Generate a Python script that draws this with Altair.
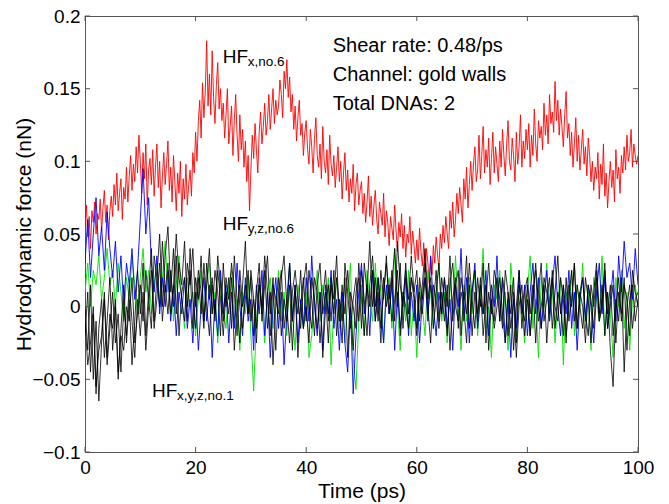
import altair as alt
import pandas as pd

# HF_x of DNA no.6, in pN (1e-3 nN), sampled every 0.25 ps from 0 to 100 ps
red_pN = [
    55, 70, 48, 62, 40, 66, 58, 72, 50, 64,
    60, 74, 52, 68, 80, 58, 70, 46, 66, 76,
    62, 84, 70, 92, 66, 78, 88, 60, 82, 74,
    96, 72, 90, 104, 80, 98, 86, 110, 92, 118,
    100, 78, 106, 88, 112, 70, 94, 102, 84, 108,
    76, 96, 112, 82, 100, 68, 90, 106, 84, 98,
    114, 80, 96, 72, 104, 86, 66, 92, 78, 100,
    62, 88, 74, 98, 70, 84, 94, 76, 106, 92,
    120, 100, 128, 142, 116, 154, 130, 148, 183, 138,
    160, 132, 176, 144, 126, 152, 168, 136, 150, 128,
    140, 116, 132, 150, 112, 124, 138, 104, 128, 146,
    118, 100, 132, 108, 122, 96, 114, 86, 104, 66,
    94, 118, 102, 126, 108, 92, 120, 134, 112, 124,
    140, 118, 128, 146, 122, 136, 150, 126, 142, 132,
    138, 156, 146, 130, 162, 150, 170, 144, 158, 134,
    146, 122, 138, 114, 130, 142, 118, 126, 104, 120,
    128, 108, 98, 122, 110, 92, 116, 130, 104, 96,
    112, 88, 124, 100, 92, 108, 84, 118, 98, 90,
    104, 82, 96, 110, 86, 100, 74, 92, 106, 80,
    94, 72, 88, 78, 98, 66, 84, 92, 70, 80,
    86, 64, 78, 58, 72, 90, 62, 76, 56, 70,
    80, 60, 50, 72, 64, 56, 78, 48, 66, 58,
    42, 62, 54, 46, 70, 52, 38, 58, 48, 64,
    40, 56, 34, 50, 44, 62, 36, 52, 42, 30,
    46, 32, 54, 38, 28, 44, 24, 40, 30, 16,
    34, 22, 42, 30, 48, 36, 26, 50, 40, 56,
    44, 62, 50, 40, 66, 54, 72, 48, 60, 78,
    64, 82, 70, 58, 88, 74, 96, 68, 84, 100,
    80, 98, 110, 86, 94, 118, 88, 104, 124, 92,
    108, 96, 116, 84, 102, 120, 92, 110, 98, 86,
    114, 96, 122, 104, 90, 112, 128, 100, 94, 116,
    104, 86, 120, 98, 110, 132, 96, 114, 102, 122,
    108, 126, 96, 118, 104, 136, 112, 100, 128, 116,
    124, 108, 140, 118, 132, 112, 146, 126, 134, 120,
    155, 128, 142, 118, 136, 124, 110, 132, 148, 116,
    126, 104, 120, 96, 112, 130, 100, 118, 94, 108,
    122, 98, 110, 90, 116, 104, 86, 100, 80, 96,
    88, 106, 74, 98, 84, 112, 76, 92, 68, 86,
    100, 82, 94, 72, 108, 88, 96, 78, 104, 92,
    110, 94, 118, 100, 106, 122, 96, 112, 104, 98,
    104,
]
# HF_y and HF_z of DNA no.6 and HF_x,y,z of DNA no.1, in pN, every 0.5 ps
blue_pN = [
    30, 60, 20, 50, 75, 35, 55, 25, 65, 40,
    20, 45, 10, 35, 0, 30, 15, 40, 5, 25,
    60, 95, 50, 75, 30, 10, 35, -5, 20, 0,
    25, -10, 15, -20, 10, -5, 20, -15, 5, -25,
    10, -30, 0, 20, -10, 15, -35, 5, -20, 25,
    -5, 15, -25, 10, -15, 30, 0, -20, 20, -10,
    5, -30, 15, -5, 25, -20, 10, -35, 0, 20,
    -15, 10, -40, -5, 30, -10, 15, -25, 5, -15,
    20, -10, 35, 0, -20, 10, -30, 15, -5, 25,
    -15, 5, -30, 10, -25, -45, 0, -60, -20, 10,
    30, -5, 15, -20, 25, -10, 20, 0, -25, 15,
    -5, 20, -30, 10, -15, 5, 25, -20, 10, -10,
    15, -25, 5, 20, -10, 35, 0, -20, 10, -5,
    20, -15, 5, -30, 15, 0, 40, -10, 20, -25,
    10, 30, -15, 5, -5, 25, -20, 15, 0, 35,
    -10, 20, -25, 5, -35, 10, -15, 25, -5, 15,
    -20, 10, 30, -5, 20, -15, 5, 25, -10, 15,
    35, 0, -20, 15, -5, 25, -15, 10, -30, 5,
    20, -10, 15, 0, -25, 10, 30, -5, 20, -15,
    5, 25, -10, 35, 10, 45, 20, 30, 5, 40,
    15,
]
green_pN = [
    10, 30, 0, 25, 15, 35, 5, 20, 40, 15,
    25, 0, 30, 10, -10, 20, 5, 35, 15, -5,
    20, 40, 10, 25, -5, 15, 30, 0, 20, 45,
    10, 25, -10, 15, 35, 5, -15, 20, 0, 10,
    -20, 5, 25, -10, 15, 30, -5, 10, -25, 20,
    0, -15, 15, 25, -10, 5, -30, 10, -5, 20,
    -20, -58, -10, 15, 0, -25, 10, 20, -15, 5,
    25, -10, 10, -20, 30, -5, -30, 15, 0, -15,
    10, -35, -20, 5, 25, -10, 15, -5, 20, -40,
    0, 20, -15, 10, -25, 5, 30, -35, -57, -10,
    15, -20, 25, 5, -10, 30, -5, 15, -25, 10,
    20, -15, 40, 0, -30, 10, -10, 25, -20, 5,
    -35, 15, 0, -20, 25, 10, -15, 5, 30, -10,
    10, -25, 20, -5, 35, 0, -30, 15, -10, 20,
    -5, 25, -20, 10, 40, -15, 0, -35, 15, 5,
    25, -10, 10, -30, 30, 5, -20, 15, 0, -25,
    10, 35, -15, 5, -35, 20, 0, 30, -10, 15,
    -25, 5, 20, -40, 10, -5, 25, -20, 15, 0,
    30, -15, 10, -30, 20, 5, -10, 35, -20, 10,
    -5, -35, 20, 0, 25, -15, 10, -30, 5, 15,
    0,
]
black1_pN = [
    -20, 10, -45, -5, -60, -15, 5, -35, -10, 20,
    -30, 0, -50, -15, 15, -25, 5, -40, -10, 25,
    -5, 30, -20, 10, 40, -10, 20, 50, 0, 35,
    55, 10, 40, -5, 30, 15, 45, 0, 25, -15,
    20, 5, 35, -10, 15, 40, -5, 25, 10, -20,
    30, 0, 20, -15, 35, 5, -25, 15, 45, -5,
    20, -20, 10, 30, -10, 15, 35, -5, 20, -30,
    10, 25, -15, 5, 30, -10, 15, -35, 0, 20,
    -10, 25, 5, -20, 15, 30, -5, 10, -25, 20,
    5, 35, -10, 15, -5, 25, 0, -30, 10, 20,
    -15, 30, 10, 45, 0, 20, -10, 25, 5, 35,
    -5, 15, 40, 0, 30, -15, 20, 5, 35, 10,
    25, -10, 15, 40, 5, 20, -15, 10, 30, -5,
    20, 0, 35, -10, 15, 25, -20, 10, -5, 30,
    5, -15, 20, 0, 30, -25, 10, -5, 25, 15,
    -10, 20, 5, -20, 15, -30, 0, 25, -15, 10,
    20, -5, 15, -25, 10, 30, -10, 5, 20, -15,
    10, 35, -5, 15, -20, 5, 25, -10, 15, 0,
    -15, 20, 5, -25, 10, 30, -5, 15, -20, 10,
    -30, -55, 0, 20, -10, 15, 5, -20, 25, 10,
    0,
]
black2_pN = [
    0, -30, 15, -50, -10, -65, -25, 5, -40, -15,
    10, -25, -5, -45, 0, -20, 15, -10, -35, 5,
    -20, 10, -30, 0, 25, -15, 5, 30, -10, 15,
    -5, 25, 0, 35, -20, 10, 20, -10, 40, 5,
    -15, 20, -5, 30, 0, -20, 15, -10, 25, 5,
    -20, 10, -5, 20, -30, 0, 15, -15, 5, 25,
    -10, 5, -25, 15, -5, 25, -15, 10, -40, 0,
    20, -20, 5, -10, 15, -30, 10, -5, 25, -15,
    0, -25, 20, 5, -15, 10, -35, 0, 15, -10,
    25, -20, 5, -10, 20, -35, 10, 0, -15, 30,
    5, -20, 15, 0, 25, -10, 10, -25, 20, 0,
    15, -10, 5, 25, -20, 10, 0, -15, 20, 5,
    -20, 10, -5, 20, 0, -25, 15, 5, -15, 10,
    -10, 15, -30, 5, 20, -15, 10, 0, -25, 15,
    -20, 10, -10, 20, -5, 15, -30, 5, -15, 0,
    20, -5, -25, 10, -15, 5, -35, 0, 15, -20,
    5, -20, 10, 25, -10, 0, 15, -25, 5, 20,
    -15, 10, 0, -20, 20, -10, 5, 30, -15, 10,
    0, -25, 15, 5, -15, 20, -10, 0, 25, -5,
    15, -20, 5, -10, 20, -45, 0, 15, -15, 5,
    10,
]
black3_pN = [
    -10, -40, -25, 0, -55, -30, -20, 10, -35, -5,
    -15, 5, -45, -20, -30, 0, -10, 20, -25, -5,
    15, -10, 25, 5, -15, 35, 20, 0, 45, 10,
    30, -5, 15, 50, 20, 5, -10, 30, 15, 40,
    0, 25, 10, -15, 30, 5, 20, -5, 35, 15,
    -10, 20, 5, 30, 10, -20, 25, 0, 15, -5,
    25, 5, -15, 20, 0, 35, 10, -20, 15, 5,
    -5, 20, 35, 0, -25, 10, 25, 5, -15, 15,
    30, 0, -15, 20, 10, -25, 5, 25, -10, 15,
    -5, 20, 0, -25, 30, 10, -15, 5, 20, -10,
    25, 5, -20, 15, 35, 0, 20, -15, 10, 30,
    5, 25, -10, 45, 15, 0, 30, -5, 20, 10,
    -15, 20, 5, 30, -5, 15, 0, 25, -10, 20,
    5, -20, 15, 30, 0, -10, 20, 5, 35, -15,
    10, 25, -5, 15, -20, 5, 30, 0, -10, 20,
    5, -15, 25, 10, -5, 20, -25, 15, 0, -10,
    15, -20, 5, 30, 0, -15, 20, 10, -5, 25,
    0, -10, 20, 5, -25, 15, 0, 30, -15, 10,
    20, -5, -20, 15, 0, 25, -10, 5, 30, -15,
    0, 15, -25, 10, -5, 20, -30, 5, 15, -10,
    5,
]

x_ticks = [0, 20, 40, 60, 80, 100]
y_ticks = [-0.1, -0.05, 0, 0.05, 0.1, 0.15, 0.2]
info_lines = ["Shear rate: 0.48/ps", "Channel: gold walls", "Total DNAs: 2"]

W, H = 553, 436
FONT = "Liberation Sans"

def frame(vals, step):
    return pd.DataFrame({"t": [i * step for i in range(len(vals))],
                         "f": [v / 1000.0 for v in vals]})

xs = alt.Scale(domain=[0, 100], nice=False)
ys = alt.Scale(domain=[-0.1, 0.2], nice=False)

def line(vals, step, color, width=0.9, first=False):
    if first:
        xe = alt.X("t:Q", scale=xs, axis=alt.Axis(values=x_ticks, title="Time (ps)", ticks=False,
                                                  labelPadding=6, titlePadding=3, format="d",
                                                  labelFlush=False))
        ye = alt.Y("f:Q", scale=ys, axis=alt.Axis(values=y_ticks, title="Hydrodynamic force (nN)",
                                                  ticks=False, labelPadding=5, titlePadding=-3,
                                                  labelFlush=False,
                                                  labelExpr="datum.value == 0 ? '0' : format(datum.value, '')"))
    else:
        xe = alt.X("t:Q", scale=xs)
        ye = alt.Y("f:Q", scale=ys)
    return alt.Chart(frame(vals, step)).mark_line(color=color, strokeWidth=width, clip=True).encode(x=xe, y=ye)

layers = [
    line(red_pN, 0.25, "#ff0000", first=True),
    line(green_pN, 0.5, "#00e000"),
    line(blue_pN, 0.5, "#0000ff"),
    line(black1_pN, 0.5, "#000000", 0.8),
    line(black2_pN, 0.5, "#000000", 0.8),
    line(black3_pN, 0.5, "#000000", 0.8),
]

# inward ticks (MATLAB-style box)
xt = pd.DataFrame({"t": x_ticks})
yt = pd.DataFrame({"f": y_ticks})
tick_color = "#555555"
layers += [
    alt.Chart(xt).mark_rule(color=tick_color).encode(x=alt.X("t:Q", scale=xs), y=alt.value(H), y2=alt.value(H - 5)),
    alt.Chart(xt).mark_rule(color=tick_color).encode(x=alt.X("t:Q", scale=xs), y=alt.value(0), y2=alt.value(5)),
    alt.Chart(yt).mark_rule(color=tick_color).encode(y=alt.Y("f:Q", scale=ys), x=alt.value(0), x2=alt.value(5)),
    alt.Chart(yt).mark_rule(color=tick_color).encode(y=alt.Y("f:Q", scale=ys), x=alt.value(W), x2=alt.value(W - 5)),
]

# info text
info = pd.DataFrame({"txt": info_lines, "t": [44.8, 44.8, 44.8], "f": [0.1795, 0.1595, 0.1395]})
layers.append(alt.Chart(info).mark_text(align="left", baseline="middle", fontSize=20, font=FONT, color="black")
              .encode(x=alt.X("t:Q", scale=xs), y=alt.Y("f:Q", scale=ys), text="txt:N"))

# series labels with subscripts
lab = pd.DataFrame({"main": ["HF", "HF", "HF"],
                    "sub": ["x,no.6", "y,z,no.6", "x,y,z,no.1"],
                    "t": [24.9, 24.9, 12.1],
                    "f": [0.168, 0.053, -0.062]})
layers.append(alt.Chart(lab).mark_text(align="left", baseline="alphabetic", fontSize=19, font=FONT, color="black")
              .encode(x=alt.X("t:Q", scale=xs), y=alt.Y("f:Q", scale=ys), text="main:N"))
layers.append(alt.Chart(lab).mark_text(align="left", baseline="alphabetic", fontSize=13.5, font=FONT, color="black",
                                       dx=25, dy=3)
              .encode(x=alt.X("t:Q", scale=xs), y=alt.Y("f:Q", scale=ys), text="sub:N"))

chart = alt.layer(*layers).properties(
    width=W, height=H,
    autosize=alt.AutoSizeParams(type="none"),
    padding={"left": 85, "top": 16, "right": 31, "bottom": 52},
    background="white",
).configure_view(stroke="#555555", strokeWidth=1).configure_axis(
    domainColor="#555555", grid=False, labelFont=FONT, titleFont=FONT,
    labelFontSize=19, titleFontSize=21, labelColor="black", titleColor="black",
    titleFontWeight="normal",
)

chart.save("out.html", embed_options={"renderer": "svg", "actions": False})
